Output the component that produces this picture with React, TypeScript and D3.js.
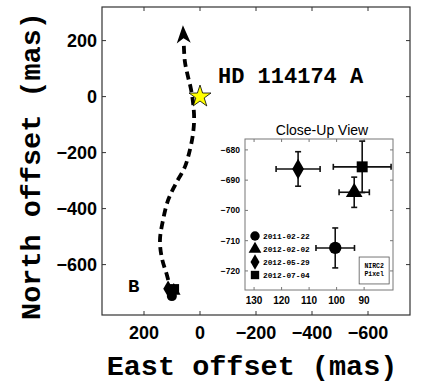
import { useEffect, useRef } from 'react';
import * as d3 from 'd3';

// main panel ticks (mas)
const mainXTicks = [200, 0, -200, -400, -600];
const mainYTicks = [200, 0, -200, -400, -600];

// dashed orbit track, [east, north] in mas
const orbitTrack: [number, number][] = [
  [102, -700], [118, -638], [136, -577], [143, -513], [132, -441],
  [114, -370], [89, -316], [54, -251], [39, -202], [26, -140],
  [21, -80], [25, -20], [33, 30], [45, 80], [54, 125], [58, 190],
];
const arrowTip: [number, number] = [61, 255];

// astrometry of B
const epochs = ['2011-02-22', '2012-02-02', '2012-05-29', '2012-07-04'];
const symbols = ['circle', 'triangle', 'diamond', 'square'];
const eastOff = [100.5, 93.6, 114.0, 90.7];
const northOff = [-712.4, -694.0, -686.3, -685.6];
const eastErr = [7.0, 5.5, 8.0, 10.5];
const northErr = [6.6, 5.0, 5.7, 8.5];

// inset ticks
const insetXTicks = [130, 120, 110, 100, 90];
const insetYTicks = [-680, -690, -700, -710, -720];
// NIRC2 pixel (10 mas) box corner
const pixelBox = { east: [91.8, 80.9], north: [-715.4, -724.3] };

const mono = '"Liberation Mono", "DejaVu Sans Mono", monospace';
const sans = '"Liberation Sans", Arial, sans-serif';
const fmt = (v: number) => (v < 0 ? '\u2212' + Math.abs(v) : String(v));

function markerPath(type: string, s: number) {
  const sym = {
    circle: d3.symbolCircle, triangle: d3.symbolTriangle,
    diamond: d3.symbolDiamond, square: d3.symbolSquare,
  }[type] || d3.symbolCircle;
  return d3.symbol(sym, s)();
}

function App() {
  const ref = useRef<SVGSVGElement>(null);

  useEffect(() => {
    const svg = d3.select(ref.current);
    svg.selectAll('*').remove();

    const x = d3.scaleLinear().domain([350, -750]).range([102, 410]);
    const y = d3.scaleLinear().domain([320, -780]).range([7, 315]);

    const frame = '#333';
    svg.append('rect').attr('x', 102).attr('y', 7).attr('width', 308).attr('height', 308)
      .attr('fill', 'white').attr('stroke', frame).attr('stroke-width', 1.2);

    // inward ticks on four sides
    const tl = 4;
    mainXTicks.forEach(t => {
      svg.append('line').attr('x1', x(t)).attr('x2', x(t)).attr('y1', 315).attr('y2', 315 - tl).attr('stroke', frame);
      svg.append('line').attr('x1', x(t)).attr('x2', x(t)).attr('y1', 7).attr('y2', 7 + tl).attr('stroke', frame);
      svg.append('text').attr('x', x(t)).attr('y', 339).attr('text-anchor', 'middle')
        .style('font-family', sans).style('font-weight', 'bold').style('font-size', '18px').text(fmt(t));
    });
    mainYTicks.forEach(t => {
      svg.append('line').attr('y1', y(t)).attr('y2', y(t)).attr('x1', 102).attr('x2', 102 + tl).attr('stroke', frame);
      svg.append('line').attr('y1', y(t)).attr('y2', y(t)).attr('x1', 410).attr('x2', 410 - tl).attr('stroke', frame);
      svg.append('text').attr('x', 97).attr('y', y(t)).attr('dy', '0.36em').attr('text-anchor', 'end')
        .style('font-family', sans).style('font-weight', 'bold').style('font-size', '18px').text(fmt(t));
    });

    svg.append('text').attr('x', 252).attr('y', 375).attr('text-anchor', 'middle')
      .style('font-family', mono).style('font-weight', 'bold').style('font-size', '28.5px')
      .text('East offset (mas)');
    svg.append('text').attr('transform', 'translate(40,166) rotate(-90)').attr('text-anchor', 'middle')
      .style('font-family', mono).style('font-weight', 'bold').style('font-size', '28.5px')
      .text('North offset (mas)');

    // orbit track
    const line = d3.line<[number, number]>().x(d => x(d[0])).y(d => y(d[1])).curve(d3.curveCatmullRom);
    svg.append('path').attr('d', line(orbitTrack)).attr('fill', 'none').attr('stroke', 'black')
      .attr('stroke-width', 3.8).attr('stroke-dasharray', '8,5');

    const last = orbitTrack[orbitTrack.length - 1];
    const tx = x(arrowTip[0]), ty = y(arrowTip[1]);
    const ang = Math.atan2(ty - y(last[1]), tx - x(last[0]));
    const pt = (back: number, side: number) => {
      const bx = tx - back * Math.cos(ang) - side * Math.sin(ang);
      const by = ty - back * Math.sin(ang) + side * Math.cos(ang);
      return `${bx},${by}`;
    };
    svg.append('polygon').attr('points', [pt(0, 0), pt(18, 7), pt(13, 0), pt(18, -7)].join(' '))
      .attr('fill', 'black');

    // B in main panel
    epochs.forEach((_, i) => {
      svg.append('path').attr('d', markerPath(symbols[i], 80))
        .attr('transform', `translate(${x(eastOff[i])},${y(northOff[i])})`).attr('fill', 'black');
    });

    // star A
    const star = d3.symbol(d3.symbolStar, 150)();
    svg.append('path').attr('d', star).attr('transform', `translate(${x(0)},${y(0)})`)
      .attr('fill', '#ffff00').attr('stroke', 'black').attr('stroke-width', 0.8);

    svg.append('text').attr('x', 218).attr('y', 83)
      .style('font-family', mono).style('font-weight', 'bold').style('font-size', '22px').text('HD 114174 A');
    svg.append('text').attr('x', 128).attr('y', 292)
      .style('font-family', mono).style('font-weight', 'bold').style('font-size', '19px').text('B');

    // ---- close-up inset
    const ix = d3.scaleLinear().domain([133.3, 79.5]).range([245, 393]);
    const iy = d3.scaleLinear().domain([-676.4, -726.3]).range([139, 290]);
    const ig = svg.append('g');
    const iframe = '#777';
    ig.append('rect').attr('x', 245).attr('y', 139).attr('width', 148).attr('height', 151)
      .attr('fill', 'white').attr('stroke', iframe).attr('stroke-width', 1);
    insetXTicks.forEach(t => {
      ig.append('line').attr('x1', ix(t)).attr('x2', ix(t)).attr('y1', 290).attr('y2', 287).attr('stroke', iframe);
      ig.append('line').attr('x1', ix(t)).attr('x2', ix(t)).attr('y1', 139).attr('y2', 142).attr('stroke', iframe);
      ig.append('text').attr('x', ix(t)).attr('y', 304).attr('text-anchor', 'middle')
        .style('font-family', sans).style('font-weight', 'bold').style('font-size', '10px').text(t);
    });
    insetYTicks.forEach(t => {
      ig.append('line').attr('y1', iy(t)).attr('y2', iy(t)).attr('x1', 245).attr('x2', 248).attr('stroke', iframe);
      ig.append('line').attr('y1', iy(t)).attr('y2', iy(t)).attr('x1', 393).attr('x2', 390).attr('stroke', iframe);
      ig.append('text').attr('x', 240).attr('y', iy(t)).attr('dy', '0.36em').attr('text-anchor', 'end')
        .style('font-family', sans).style('font-weight', 'bold').style('font-size', '8.5px').text(fmt(t));
    });
    ig.append('text').attr('x', 322).attr('y', 135).attr('text-anchor', 'middle')
      .style('font-family', sans).style('font-size', '14px').text('Close-Up View');

    // error bars and markers
    const cap = 3;
    epochs.forEach((_, i) => {
      const cx = ix(eastOff[i]), cy = iy(northOff[i]);
      const x0 = ix(eastOff[i] + eastErr[i]), x1 = ix(eastOff[i] - eastErr[i]);
      const y0 = iy(northOff[i] + northErr[i]), y1 = iy(northOff[i] - northErr[i]);
      const eb = ig.append('g').attr('stroke', '#111').attr('stroke-width', 1.6);
      eb.append('line').attr('x1', x0).attr('x2', x1).attr('y1', cy).attr('y2', cy);
      eb.append('line').attr('x1', x0).attr('x2', x0).attr('y1', cy - cap).attr('y2', cy + cap);
      eb.append('line').attr('x1', x1).attr('x2', x1).attr('y1', cy - cap).attr('y2', cy + cap);
      eb.append('line').attr('x1', cx).attr('x2', cx).attr('y1', y0).attr('y2', y1);
      eb.append('line').attr('y1', y0).attr('y2', y0).attr('x1', cx - cap).attr('x2', cx + cap);
      eb.append('line').attr('y1', y1).attr('y2', y1).attr('x1', cx - cap).attr('x2', cx + cap);
      ig.append('path').attr('d', markerPath(symbols[i], 120))
        .attr('transform', `translate(${cx},${cy})`).attr('fill', 'black');
    });

    // legend
    epochs.forEach((e, i) => {
      const ly = 236 + i * 13;
      ig.append('path').attr('d', markerPath(symbols[i], 70))
        .attr('transform', `translate(255,${ly})`).attr('fill', 'black');
      ig.append('text').attr('x', 263).attr('y', ly).attr('dy', '0.35em')
        .style('font-family', mono).style('font-weight', 'bold').style('font-size', '7.8px').text(e);
    });

    // NIRC2 pixel box
    const bx = ix(pixelBox.east[0]), bw = ix(pixelBox.east[1]) - bx;
    const by = iy(pixelBox.north[0]), bh = iy(pixelBox.north[1]) - by;
    ig.append('rect').attr('x', bx).attr('y', by).attr('width', bw).attr('height', bh)
      .attr('fill', 'none').attr('stroke', '#555').attr('stroke-width', 0.8);
    ['NIRC2', 'Pixel'].forEach((s, k) => {
      ig.append('text').attr('x', bx + bw / 2).attr('y', by + 11 + k * 8).attr('text-anchor', 'middle')
        .style('font-family', mono).style('font-weight', 'bold').style('font-size', '6.5px').text(s);
    });
  }, []);

  return (
    <svg ref={ref} width={423} height={388}
      style={{ position: 'absolute', left: 0, top: 0, background: 'white' }} />
  );
}

export default App;
